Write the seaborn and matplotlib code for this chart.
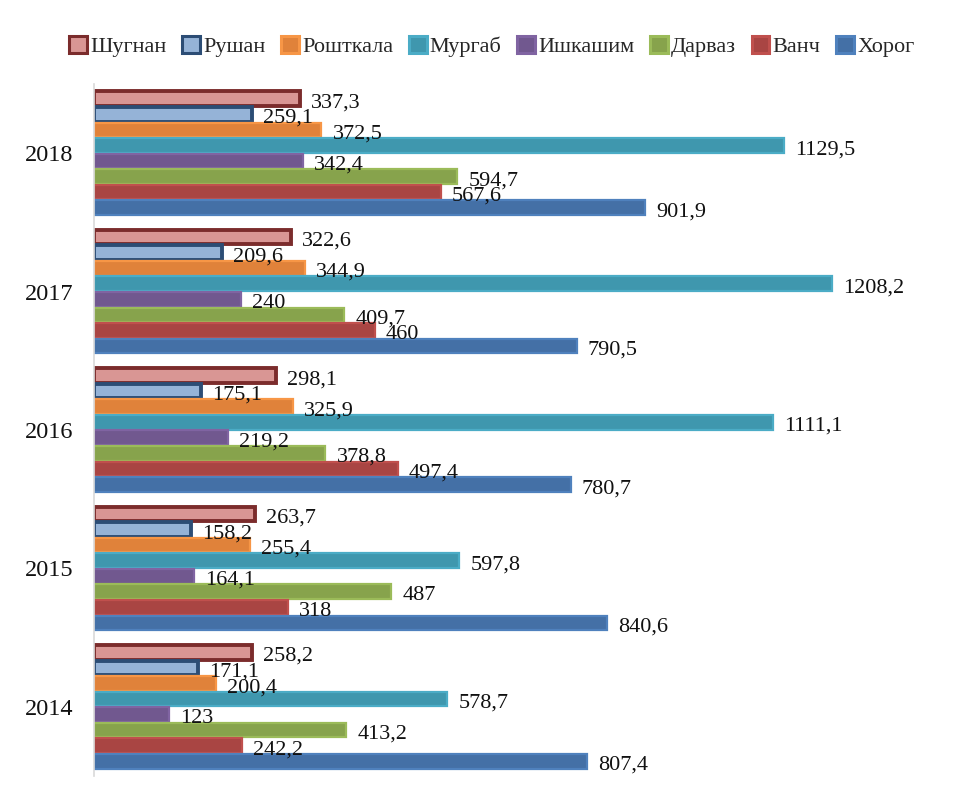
import matplotlib
matplotlib.use("Agg")
import matplotlib.pyplot as plt
from matplotlib.patches import Patch
import seaborn as sns
import pandas as pd

# Districts (series) and years (categories)
districts = ["Шугнан", "Рушан", "Рошткала", "Мургаб", "Ишкашим", "Дарваз", "Ванч", "Хорог"]
years = ["2018", "2017", "2016", "2015", "2014"]

shugnan = [337.3, 322.6, 298.1, 263.7, 258.2]
rushan = [259.1, 209.6, 175.1, 158.2, 171.1]
roshtkala = [372.5, 344.9, 325.9, 255.4, 200.4]
murgab = [1129.5, 1208.2, 1111.1, 597.8, 578.7]
ishkashim = [342.4, 240, 219.2, 164.1, 123]
darvaz = [594.7, 409.7, 378.8, 487, 413.2]
vanch = [567.6, 460, 497.4, 318, 242.2]
khorog = [901.9, 790.5, 780.7, 840.6, 807.4]

series = [shugnan, rushan, roshtkala, murgab, ishkashim, darvaz, vanch, khorog]

# Fill and outline colours per district
face_colors = ["#D99694", "#95B3D7", "#E0823A", "#3F97AE", "#71588F", "#87A34C", "#A94543", "#4470A6"]
edge_colors = ["#7B2C2C", "#2C4D75", "#F79646", "#4BACC6", "#8064A2", "#9BBB59", "#C0504D", "#4F81BD"]
edge_widths = [2.8, 2.8, 1.6, 1.6, 1.6, 1.6, 1.6, 1.6]

rows = []
for name, vals in zip(districts, series):
    for y, v in zip(years, vals):
        rows.append({"year": y, "district": name, "value": v})
df = pd.DataFrame(rows)

sns.set_theme(style="white")
plt.rcParams["font.family"] = ["Liberation Serif", "DejaVu Serif"]

fig = plt.figure(figsize=(9.55, 7.9), dpi=100)
ax = fig.add_axes([94 / 955, 14 / 790, 855 / 955, 692 / 790])

sns.barplot(
    data=df, y="year", x="value", hue="district",
    order=years, hue_order=districts, orient="h",
    palette=face_colors, width=0.9, gap=0.06,
    errorbar=None, legend=False, ax=ax,
)

for cont, fc, ec, lw in zip(ax.containers, face_colors, edge_colors, edge_widths):
    for bar in cont:
        bar.set_facecolor(fc)
        bar.set_edgecolor(ec)
        bar.set_linewidth(lw)
    labels = [f"{v:g}".replace(".", ",") for v in cont.datavalues]
    texts = ax.bar_label(cont, labels=labels, padding=8, fontsize=16, color="#111111")
    for t in texts:
        t.xyann = (8, -3)

ax.set_xlim(0, 1400)
ax.set_xlabel("")
ax.set_ylabel("")
ax.set_xticks([])
ax.tick_params(axis="y", length=0, labelsize=17.5, pad=15, colors="#111111")
for side in ["top", "right", "bottom"]:
    ax.spines[side].set_visible(False)
ax.spines["left"].set_color("#D9D9D9")
ax.spines["left"].set_linewidth(1.2)

handles = [Patch(facecolor=fc, edgecolor=ec, linewidth=2.2) for fc, ec in zip(face_colors, edge_colors)]
fig.legend(
    handles, districts, loc="center", bbox_to_anchor=(0.515, 0.941), ncol=8,
    frameon=False, fontsize=16, handlelength=0.8, handleheight=0.8,
    handletextpad=0.15, columnspacing=0.7,
)

fig.savefig("out.png", dpi=100, facecolor="white")
